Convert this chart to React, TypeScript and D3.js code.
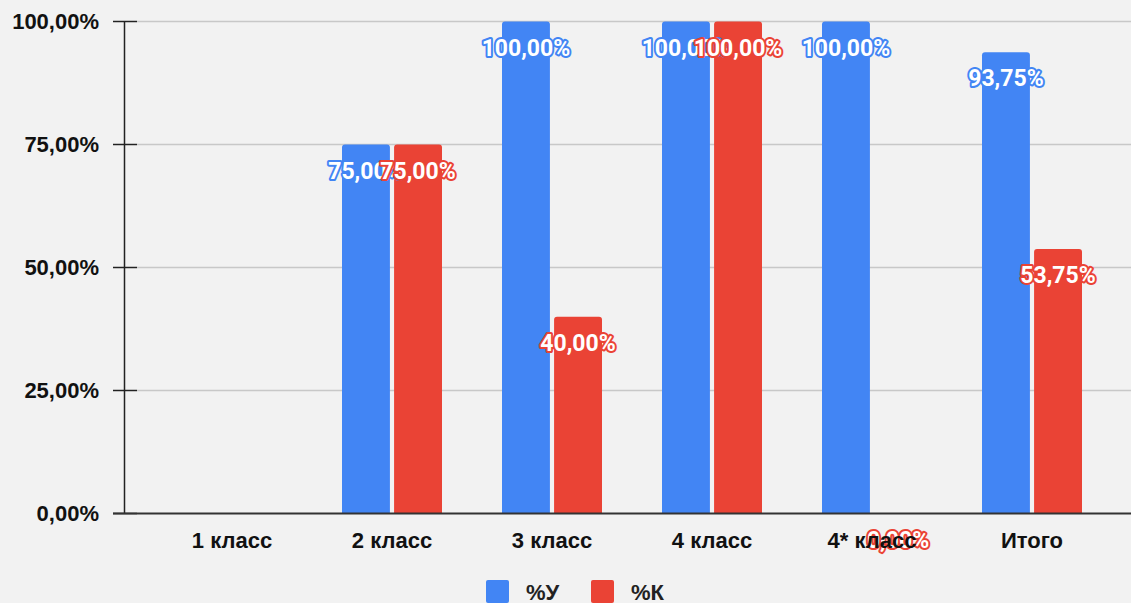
import React from "react";
import * as d3 from "d3";

const categories = ["1 класс", "2 класс", "3 класс", "4 класс", "4* класс", "Итого"];
const seriesNames = ["%У", "%К"];
const seriesU: (number | null)[] = [null, 75, 100, 100, 100, 93.75];
const seriesK: (number | null)[] = [null, 75, 40, 100, 0, 53.75];
const yTicks = [0, 25, 50, 75, 100];
const colors = ["#4285f4", "#ea4335"];

const W = 1131;
const H = 603;

export default function App() {
  const y = d3.scaleLinear().domain([0, 100]).range([513.5, 21.5]);
  const x0 = d3.scaleBand<string>().domain(categories).range([152, 1112]).padding(0);
  const x1 = d3.scaleBand<string>().domain(seriesNames).range([0, 100]).paddingInner(0.08).paddingOuter(0);
  const fmt = (v: number) => v.toFixed(2).replace(".", ",") + "%";
  const data = [seriesU, seriesK];
  const groupOffset = (x0.bandwidth() - 100) / 2;
  const r = 3;

  const barPath = (xl: number, w: number, top: number, bottom: number) => {
    const h = bottom - top;
    if (h <= 0) return "";
    const rr = Math.min(r, h);
    return `M${xl},${bottom}V${top + rr}Q${xl},${top} ${xl + rr},${top}H${xl + w - rr}Q${xl + w},${top} ${xl + w},${top + rr}V${bottom}Z`;
  };

  const axisFont = "Liberation Sans, Arial, sans-serif";

  return (
    <svg width={W} height={H} style={{ position: "absolute", left: 0, top: 0, background: "#f2f2f2" }}>
      <rect x={0} y={0} width={W} height={H} fill="#f2f2f2" />
      {yTicks.map((t) => (
        <g key={t}>
          {t > 0 && <line x1={137} x2={W} y1={y(t)} y2={y(t)} stroke="#c8c8c8" strokeWidth={1.5} />}
          <line x1={113} x2={137} y1={y(t)} y2={y(t)} stroke="#222" strokeWidth={1.5} />
          <text x={99} y={y(t)} dy="0.36em" textAnchor="end" fontFamily={axisFont} fontWeight="bold" fontSize={22} fill="#111">
            {fmt(t)}
          </text>
        </g>
      ))}
      <line x1={124.5} x2={124.5} y1={y(100)} y2={y(0)} stroke="#222" strokeWidth={1.5} />
      {data.map((s, si) =>
        s.map((v, ci) =>
          v === null ? null : (
            <path
              key={`b${si}-${ci}`}
              d={barPath(x0(categories[ci])! + groupOffset + x1(seriesNames[si])!, x1.bandwidth(), y(v), y(0))}
              fill={colors[si]}
            />
          )
        )
      )}
      <line x1={113} x2={W} y1={y(0)} y2={y(0)} stroke="#333" strokeWidth={2} />
      {data.map((s, si) =>
        s.map((v, ci) =>
          v === null ? null : (
            <text
              key={`l${si}-${ci}`}
              x={x0(categories[ci])! + groupOffset + x1(seriesNames[si])! + x1.bandwidth() / 2}
              y={y(v) + 34}
              textAnchor="middle"
              fontFamily="Roboto, sans-serif"
              fontWeight="bold"
              fontSize={23}
              fill="#fff"
              stroke={colors[si]}
              strokeWidth={4}
              strokeLinejoin="round"
              paintOrder="stroke"
            >
              {fmt(v)}
            </text>
          )
        )
      )}
      {categories.map((c) => (
        <text key={c} x={x0(c)! + x0.bandwidth() / 2} y={548} textAnchor="middle" fontFamily={axisFont} fontWeight="bold" fontSize={22} fill="#111">
          {c}
        </text>
      ))}
      {seriesNames.map((n, i) => (
        <g key={n} transform={`translate(${486 + i * 105},580)`}>
          <rect x={0} y={0} width={23} height={23} rx={2} fill={colors[i]} />
          <text x={40} y={20} fontFamily={axisFont} fontWeight="bold" fontSize={22} fill="#222">
            {n}
          </text>
        </g>
      ))}
    </svg>
  );
}
